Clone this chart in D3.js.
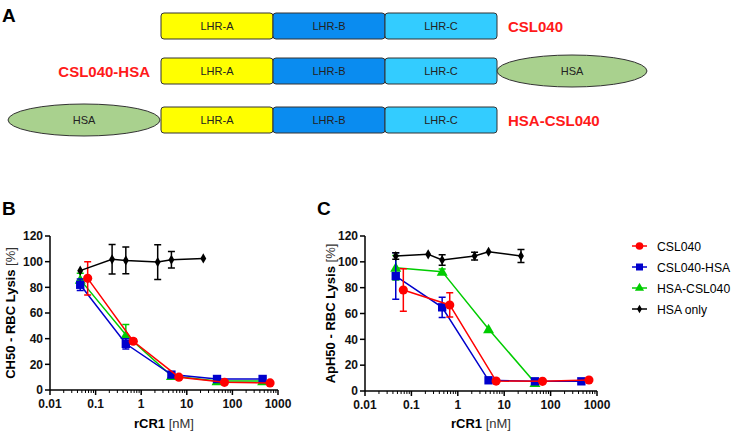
<!DOCTYPE html>
<html><head><meta charset="utf-8">
<script src="https://cdn.jsdelivr.net/npm/d3@7"></script>
<style>body{margin:0;background:#fff}svg{display:block;font-family:Arial,"Liberation Sans",sans-serif}</style>
</head><body><svg id="c" width="733" height="435"></svg>
<script>
// ---- Data ----
const xTicks = [0.01, 0.1, 1, 10, 100, 1000];
const yTicks = [0, 20, 40, 60, 80, 100, 120];
const seriesNames = ["CSL040", "CSL040-HSA", "HSA-CSL040", "HSA only"];
const seriesColors = ["#ff0000", "#0000cc", "#00cc00", "#000000"];

// Panel B (CH50)
const bRedX = [0.067, 0.67, 6.7, 67, 670];
const bRedY = [87, 38, 10, 6, 5.5];
const bRedE = [13, 2, 1, 1, 0.5];
const bBlueX = [0.046, 0.46, 4.6, 46, 460];
const bBlueY = [82, 36, 12, 8.6, 8.6];
const bBlueE = [4.5, 4, 1, 0.5, 0.5];
const bGreenX = [0.046, 0.46, 4.6, 46, 460];
const bGreenY = [86, 43, 11, 7, 7];
const bGreenE = [5, 8, 1, 1, 0.5];
const bBlackX = [0.046, 0.23, 0.46, 2.3, 4.6, 23];
const bBlackY = [93, 101.8, 101, 99.7, 101.5, 102.5];
const bBlackE = [1, 11.5, 10.5, 13.5, 6.5, 0];

// Panel C (ApH50)
const cRedX = [0.067, 0.67, 6.7, 67, 670];
const cRedY = [78.2, 66.6, 7.7, 7.5, 8.5];
const cRedE = [16.5, 9.4, 0.5, 0.5, 0.5];
const cBlueX = [0.046, 0.46, 4.6, 46, 460];
const cBlueY = [89, 64.8, 8.3, 7.5, 7.5];
const cBlueE = [18, 7.8, 0.5, 0.5, 0.5];
const cGreenX = [0.046, 0.46, 4.6, 46];
const cGreenY = [95.5, 92.4, 48, 6.4];
const cGreenE = [9.5, 2, 0.5, 0.5];
const cBlackX = [0.046, 0.23, 0.46, 2.3, 4.6, 23];
const cBlackY = [104.5, 105.8, 101.4, 104.5, 107.8, 104.5];
const cBlackE = [2.5, 0, 4, 3, 0, 5];

// Panel A constructs
const domains = ["LHR-A", "LHR-B", "LHR-C"];
const domainColors = ["#ffff00", "#0a8cf0", "#33ccff"];
const constructs = ["CSL040", "CSL040-HSA", "HSA-CSL040"];

const svg = d3.select("#c");

// ---- Panel A ----
svg.append("text").attr("x", 2).attr("y", 22).attr("font-size", 19).attr("font-weight", "bold").text("A");
const rowY = [13, 58, 107];
const rowH = 26;
const dx = d3.scaleBand().domain(domains).range([161, 497]).padding(0);
constructs.forEach((name, i) => {
  const g = svg.append("g");
  const y0 = rowY[i];
  domains.forEach((d, j) => {
    g.append("rect").attr("x", dx(d)).attr("y", y0).attr("width", dx.bandwidth()).attr("height", rowH)
      .attr("rx", 3).attr("fill", domainColors[j]).attr("stroke", "#333").attr("stroke-width", 1);
    g.append("text").attr("x", dx(d) + dx.bandwidth() / 2).attr("y", y0 + rowH / 2 + 4)
      .attr("text-anchor", "middle").attr("font-size", 11).attr("fill", "#222").text(d);
  });
  if (name === "CSL040-HSA") {
    g.append("ellipse").attr("cx", 572).attr("cy", y0 + rowH / 2).attr("rx", 75).attr("ry", 16)
      .attr("fill", "#a9d18e").attr("stroke", "#333");
    g.append("text").attr("x", 572).attr("y", y0 + rowH / 2 + 4).attr("text-anchor", "middle").attr("font-size", 11).attr("fill", "#222").text("HSA");
    g.append("text").attr("x", 150).attr("y", y0 + rowH / 2 + 6).attr("text-anchor", "end").attr("font-size", 15)
      .attr("font-weight", "bold").attr("fill", "#ff1a1a").text(name);
  } else if (name === "HSA-CSL040") {
    g.append("ellipse").attr("cx", 84).attr("cy", y0 + rowH / 2).attr("rx", 76).attr("ry", 16)
      .attr("fill", "#a9d18e").attr("stroke", "#333");
    g.append("text").attr("x", 84).attr("y", y0 + rowH / 2 + 4).attr("text-anchor", "middle").attr("font-size", 11).attr("fill", "#222").text("HSA");
    g.append("text").attr("x", 508).attr("y", y0 + rowH / 2 + 6).attr("font-size", 15)
      .attr("font-weight", "bold").attr("fill", "#ff1a1a").text(name);
  } else {
    g.append("text").attr("x", 508).attr("y", y0 + rowH / 2 + 6).attr("font-size", 15)
      .attr("font-weight", "bold").attr("fill", "#ff1a1a").text(name);
  }
});

// ---- Markers ----
const symTypes = [d3.symbolCircle, d3.symbolSquare, d3.symbolTriangle, d3.symbolDiamond];
const symSizes = [66, 70, 52, 30];

function drawPanel(cfg) {
  const x = d3.scaleLog().domain([0.01, 1000]).range([cfg.x0, cfg.x1]);
  const y = d3.scaleLinear().domain([0, 120]).range([cfg.y0, cfg.y1]);
  const g = svg.append("g");
  g.append("text").attr("x", cfg.letterX).attr("y", 215).attr("font-size", 19).attr("font-weight", "bold").text(cfg.letter);
  // x axis
  const xa = g.append("g").attr("transform", `translate(0,${cfg.y0})`);
  xa.append("line").attr("x1", cfg.x0).attr("x2", cfg.x1).attr("stroke", "#000").attr("stroke-width", 1.5);
  const minor = [];
  for (let e = -2; e < 3; e++) for (let m = 2; m <= 9; m++) minor.push(m * Math.pow(10, e));
  xa.selectAll(".mn").data(minor).join("line").attr("x1", d => x(d)).attr("x2", d => x(d))
    .attr("y1", 0).attr("y2", 3).attr("stroke", "#000").attr("stroke-width", 1);
  xa.selectAll(".mj").data(xTicks).join("line").attr("x1", d => x(d)).attr("x2", d => x(d))
    .attr("y1", 0).attr("y2", 5).attr("stroke", "#000").attr("stroke-width", 1.5);
  xa.selectAll(".xl").data(xTicks).join("text").attr("x", d => x(d)).attr("y", 18)
    .attr("text-anchor", "middle").attr("font-size", 12).attr("font-weight", "bold").attr("fill", "#111").text(d => String(d));
  // y axis
  const ya = g.append("g").attr("transform", `translate(${cfg.x0},0)`);
  ya.append("line").attr("y1", cfg.y0).attr("y2", cfg.y1).attr("stroke", "#000").attr("stroke-width", 1.5);
  ya.selectAll(".yt").data(yTicks).join("line").attr("x1", -5).attr("x2", 0).attr("y1", d => y(d)).attr("y2", d => y(d))
    .attr("stroke", "#000").attr("stroke-width", 1.5);
  ya.selectAll(".yl").data(yTicks).join("text").attr("x", -7).attr("y", d => y(d) + 4.2)
    .attr("text-anchor", "end").attr("font-size", 12).attr("font-weight", "bold").attr("fill", "#111").text(d => d);
  // axis titles
  const yt = g.append("text").attr("transform", `translate(${cfg.yTitleX},${(cfg.y0 + cfg.y1) / 2}) rotate(-90)`)
    .attr("text-anchor", "middle").attr("font-size", 13);
  yt.append("tspan").attr("font-weight", "bold").text(cfg.yTitle + " ");
  yt.append("tspan").attr("fill", "#333").text("[%]");
  const xt = g.append("text").attr("x", (cfg.x0 + cfg.x1) / 2).attr("y", 428).attr("text-anchor", "middle").attr("font-size", 13);
  xt.append("tspan").attr("font-weight", "bold").text("rCR1 ");
  xt.append("tspan").attr("fill", "#333").text("[nM]");

  const order = [2, 1, 0, 3];
  order.forEach(si => {
    const s = cfg.series[si];
    const pts = s.x.map((v, i) => ({x: v, y: s.y[i], e: s.e[i]}));
    const col = seriesColors[si];
    g.append("path").datum(pts).attr("fill", "none").attr("stroke", col).attr("stroke-width", 1.5)
      .attr("d", d3.line().x(d => x(d.x)).y(d => y(d.y)));
    const eb = pts.filter(d => d.e > 1);
    g.selectAll(null).data(eb).join("path").attr("fill", "none").attr("stroke", col).attr("stroke-width", 1.5)
      .attr("d", d => {
        const cx = x(d.x), t = y(d.y + d.e), b = y(d.y - d.e);
        return `M${cx},${t}V${b}M${cx - 3.5},${t}H${cx + 3.5}M${cx - 3.5},${b}H${cx + 3.5}`;
      });
    g.selectAll(null).data(pts).join("path").attr("fill", col)
      .attr("transform", d => `translate(${x(d.x)},${y(d.y) + (si === 2 ? 1 : 0)})`)
      .attr("d", d3.symbol().type(symTypes[si]).size(symSizes[si]));
  });
}

drawPanel({letter: "B", letterX: 2, x0: 50, x1: 278, y0: 390, y1: 236, yTitleX: 15, yTitle: "CH50 - RBC Lysis",
  series: [{x: bRedX, y: bRedY, e: bRedE}, {x: bBlueX, y: bBlueY, e: bBlueE}, {x: bGreenX, y: bGreenY, e: bGreenE}, {x: bBlackX, y: bBlackY, e: bBlackE}]});
drawPanel({letter: "C", letterX: 317, x0: 365, x1: 597, y0: 391, y1: 236, yTitleX: 335, yTitle: "ApH50 - RBC Lysis",
  series: [{x: cRedX, y: cRedY, e: cRedE}, {x: cBlueX, y: cBlueY, e: cBlueE}, {x: cGreenX, y: cGreenY, e: cGreenE}, {x: cBlackX, y: cBlackY, e: cBlackE}]});

// ---- Legend ----
const lg = svg.append("g");
seriesNames.forEach((n, i) => {
  const yy = 246 + i * 21;
  lg.append("line").attr("x1", 632).attr("x2", 647).attr("y1", yy).attr("y2", yy).attr("stroke", seriesColors[i]).attr("stroke-width", 1.5);
  lg.append("path").attr("transform", `translate(639.5,${yy})`).attr("fill", seriesColors[i])
    .attr("d", d3.symbol().type(symTypes[i]).size(symSizes[i] * 0.7));
  lg.append("text").attr("x", 657).attr("y", yy + 4.5).attr("font-size", 12.2).text(n);
});
</script></body></html>
